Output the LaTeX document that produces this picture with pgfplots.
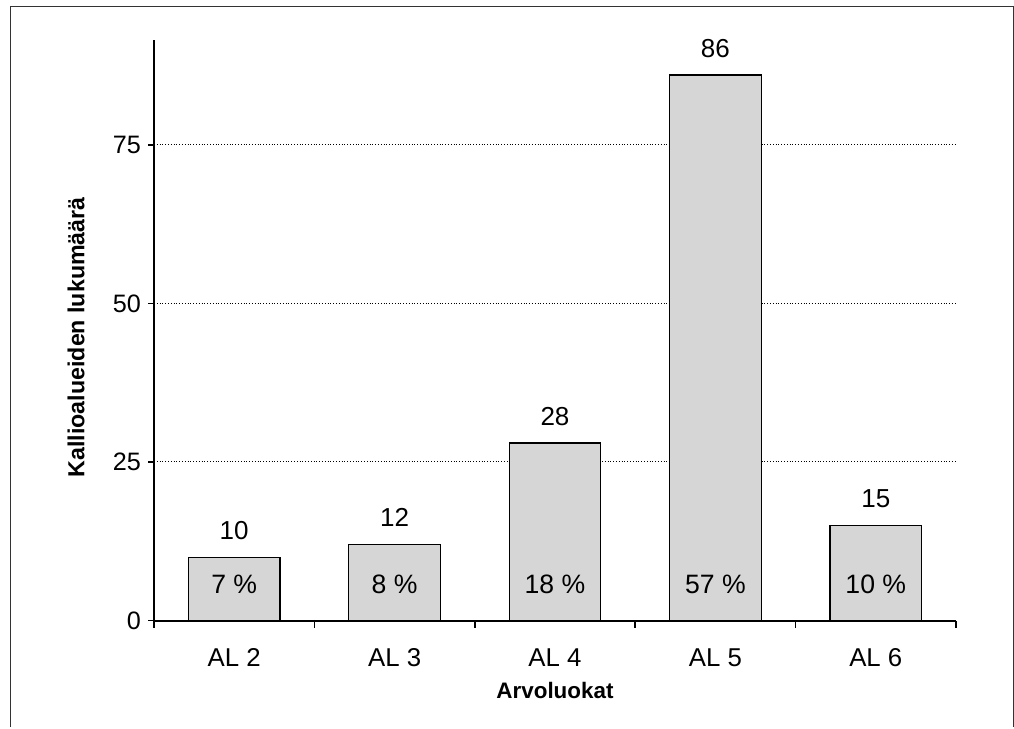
\documentclass[border=0pt]{standalone}
\usepackage{pgfplots}
\pgfplotsset{compat=1.18}
\usepackage{fontspec}
\setmainfont{Liberation Sans}
\begin{document}
\begin{tikzpicture}
\useasboundingbox (0,0) rectangle (507pt,364.5pt);
\draw[line width=0.5pt, black!80] (5pt,1pt) -- (5pt,361pt) -- (506.5pt,361pt) -- (506.5pt,1pt);
\begin{axis}[
  /pgf/number format/assume math mode=true,
  at={(77pt,54.2pt)}, anchor=south west,
  scale only axis, width=401pt, height=290.3pt,
  xmin=-0.5, xmax=4.5, ymin=0, ymax=91.5,
  axis lines=left, axis line style={-, line width=1pt, black},
  xtick={0,1,2,3,4}, xticklabels={AL 2, AL 3, AL 4, AL 5, AL 6},
  major x tick style={draw=none},
  minor xtick={-0.5,0.5,1.5,2.5,3.5,4.5},
  minor x tick style={black, line width=0.8pt},
  ytick={0,25,50,75},
  major y tick style={black, line width=0.8pt},
  tick align=outside,
  major tick length=3pt, minor tick length=3.5pt,
  ymajorgrids, grid style={densely dotted, black, line width=0.5pt},
  xticklabel style={font=\fontsize{12.9}{15}\selectfont, yshift=-7.3pt},
  yticklabel style={font=\fontsize{12.6}{15}\selectfont},
  xlabel={\textbf{Arvoluokat}},
  ylabel={\textbf{Kallioalueiden lukumäärä}},
  xlabel style={font=\fontsize{11.2}{13}\selectfont, at={(axis description cs:0.5,-0.1207)}, anchor=center},
  ylabel style={font=\fontsize{11.6}{13}\selectfont, at={(axis description cs:-0.097,0.488)}, anchor=center, rotate=0},
  clip=false,
]
\addplot[ybar, bar width=0.572, fill=black!16, draw=black, line width=0.6pt,
  nodes near coords,
  nodes near coords style={font=\fontsize{13}{15}\selectfont, anchor=south, inner sep=0pt, yshift=8.5pt}]
  coordinates {(0,10) (1,12) (2,28) (3,86) (4,15)};
\addplot[draw=none, mark=none, point meta=explicit symbolic,
  nodes near coords,
  nodes near coords style={font=\fontsize{13.3}{15}\selectfont, anchor=center, inner sep=0pt}]
  coordinates {(0,5.7) [7 \%] (1,5.7) [8 \%] (2,5.7) [18 \%] (3,5.7) [57 \%] (4,5.7) [10 \%]};
\end{axis}
\end{tikzpicture}
\end{document}
